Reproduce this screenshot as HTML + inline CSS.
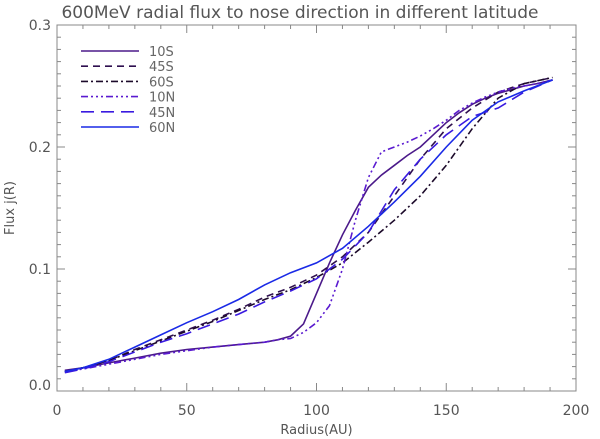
<!DOCTYPE html>
<html><head><meta charset="utf-8"><style>
body{margin:0;background:#fff;}
svg{display:block;font-family:"DejaVu Sans","Liberation Sans",sans-serif;}
</style></head><body>
<svg id="chart" width="600" height="439"></svg>
<script>
const radius = [3,10,20,30,40,50,60,70,80,85,90,95,100,105,110,115,120,125,130,135,140,145,150,155,160,165,170,175,180,185,191];
const s10S = [0.017,0.019,0.023,0.027,0.031,0.034,0.036,0.038,0.040,0.042,0.045,0.055,0.080,0.105,0.128,0.148,0.167,0.177,0.185,0.193,0.200,0.210,0.220,0.228,0.235,0.240,0.244,0.247,0.250,0.252,0.255];
const s10N = [0.016,0.018,0.022,0.026,0.030,0.033,0.036,0.038,0.040,0.042,0.043,0.048,0.056,0.070,0.100,0.140,0.175,0.196,0.200,0.204,0.209,0.215,0.222,0.230,0.236,0.241,0.245,0.248,0.250,0.252,0.255];
const rCoarse = [3,10,20,30,40,50,60,70,80,90,100,110,120,130,140,150,160,170,180,191];
const s45S = [0.016,0.019,0.025,0.034,0.042,0.050,0.058,0.067,0.077,0.085,0.095,0.110,0.130,0.160,0.190,0.215,0.232,0.245,0.252,0.257];
const s60S = [0.016,0.019,0.025,0.033,0.041,0.049,0.057,0.066,0.075,0.083,0.093,0.105,0.122,0.140,0.160,0.185,0.215,0.240,0.252,0.257];
const s45N = [0.015,0.018,0.024,0.032,0.040,0.047,0.055,0.063,0.073,0.082,0.092,0.108,0.130,0.165,0.190,0.210,0.225,0.232,0.245,0.255];
const s60N = [0.016,0.019,0.026,0.036,0.046,0.056,0.065,0.075,0.087,0.097,0.105,0.117,0.135,0.155,0.176,0.200,0.222,0.237,0.246,0.255];
const xTicks = [0,50,100,150,200];
const yTicks = [0.0,0.1,0.2,0.3];
const yTickLabels = ["0.0","0.1","0.2","0.3"];
const seriesNames = ["10S","45S","60S","10N","45N","60N"];

const L=57,R=576,T=25,B=391;
const sx=v=>L+(v/200)*(R-L);
const sy=v=>B-(v/0.3)*(B-T);
const svg=document.getElementById('chart');
const NS='http://www.w3.org/2000/svg';
function mk(tag,attrs,parent){const e=document.createElementNS(NS,tag);for(const k in attrs)e.setAttribute(k,attrs[k]);(parent||svg).appendChild(e);return e;}

const title=mk('text',{x:300,y:18,'text-anchor':'middle','font-size':17,fill:'#555'});
title.textContent='600MeV radial flux to nose direction in different latitude';



const frame=mk('rect',{x:L,y:T,width:R-L,height:B-T,fill:'none',stroke:'#888','stroke-width':1});



for(let v=0;v<=200;v+=10){
  const len=(v%50===0)?8:4;
  mk('line',{x1:sx(v),x2:sx(v),y1:B,y2:B-len,stroke:'#888'});
  mk('line',{x1:sx(v),x2:sx(v),y1:T,y2:T+len,stroke:'#888'});
}
for(let i=0;i<=30;i++){
  const v=i/100,len=(i%10===0)?8:4;
  mk('line',{x1:L,x2:L+len,y1:sy(v),y2:sy(v),stroke:'#888'});
  mk('line',{x1:R,x2:R-len,y1:sy(v),y2:sy(v),stroke:'#888'});
}
xTicks.forEach(v=>{
  const t=mk('text',{x:sx(v),y:B+24,'text-anchor':'middle','font-size':14,fill:'#555'});
  t.textContent=String(v);
  
  
});
yTicks.forEach((v,i)=>{
  const yy=Math.min(sy(v)+5,B-1);
  const t=mk('text',{x:L-6,y:yy,'text-anchor':'end','font-size':14,fill:'#555'});
  t.textContent=yTickLabels[i];
  
  
});
const xt=mk('text',{x:(L+R)/2,y:434,'text-anchor':'middle','font-size':13,fill:'#555'});
xt.textContent='Radius(AU)';


const yt=mk('text',{x:14,y:(T+B)/2,'text-anchor':'middle','font-size':13,fill:'#555',transform:`rotate(-90 14 ${(T+B)/2})`});
yt.textContent='Flux  j(R)';



const styles=[
 {xs:radius,ys:s10S,c:'#4b1a8a',d:''},
 {xs:rCoarse,ys:s45S,c:'#2e0f4f',d:'7,5'},
 {xs:rCoarse,ys:s60S,c:'#1c0a2a',d:'7,3,2,3'},
 {xs:radius,ys:s10N,c:'#5a1ad0',d:'7,3,2,3,2,3,2,3'},
 {xs:rCoarse,ys:s45N,c:'#3a1ae0',d:'13,7'},
 {xs:rCoarse,ys:s60N,c:'#1a2ae6',d:''}
];
styles.forEach((s,i)=>{
  const pts=s.xs.map((x,j)=>sx(x).toFixed(1)+','+sy(s.ys[j]).toFixed(1)).join(' ');
  const p=mk('polyline',{points:pts,fill:'none',stroke:s.c,'stroke-width':1.6,'stroke-dasharray':s.d});
  
  
  const ly=51+i*15.2;
  const ll=mk('line',{x1:81,x2:139,y1:ly,y2:ly,stroke:s.c,'stroke-width':1.6,'stroke-dasharray':s.d});
  
  
  const lt=mk('text',{x:149,y:ly+5,'font-size':13,fill:'#666'});
  lt.textContent=seriesNames[i];
  
  
});
</script>
</body></html>
